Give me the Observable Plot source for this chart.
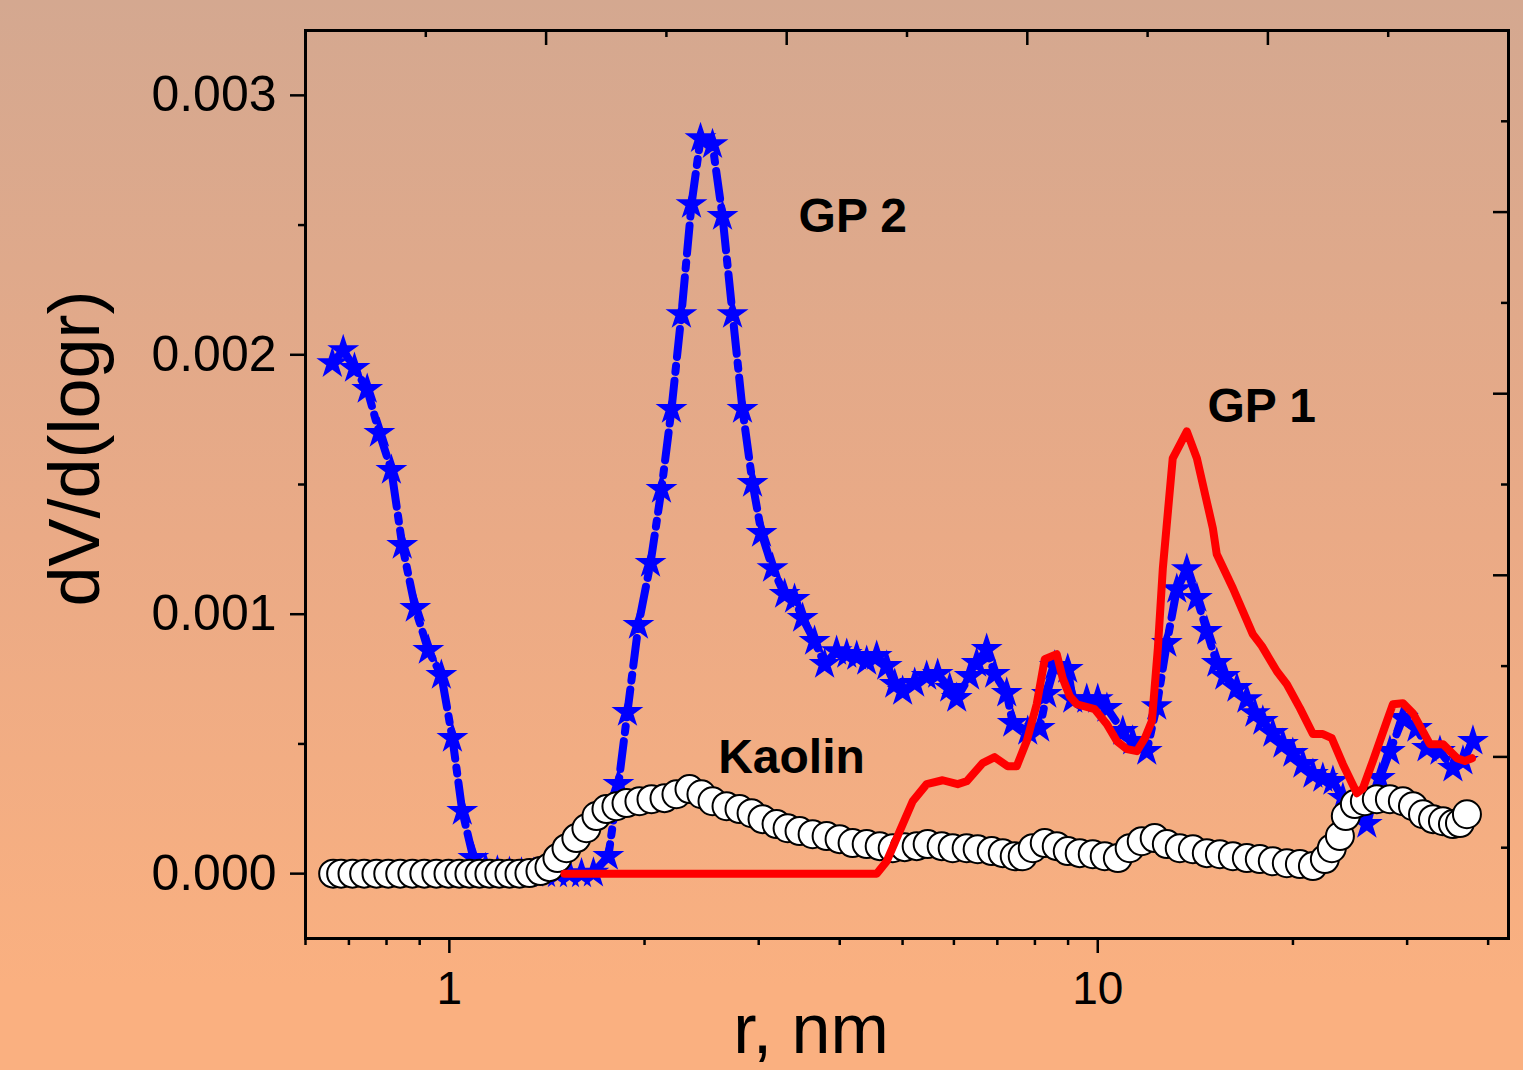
<!DOCTYPE html>
<html>
<head>
<meta charset="utf-8">
<script src="https://cdn.jsdelivr.net/npm/d3@7"></script>
<script src="https://cdn.jsdelivr.net/npm/@observablehq/plot@0.6"></script>
<style>
  html, body { margin: 0; padding: 0; }
  body {
    width: 1523px; height: 1070px; overflow: hidden;
    background: linear-gradient(to bottom, rgb(212,168,144) 0%, rgb(234,170,134) 50%, rgb(250,176,128) 92%, rgb(250,176,128) 100%);
  }
</style>
</head>
<body>
<div id="chart"></div>
<script>
// ---- GP 2 (blue stars, dash-dot line) ----
const gp2R = [0.660,0.686,0.714,0.747,0.780,0.814,0.846,0.886,0.928,0.972,1.011,1.047,1.089,1.137,1.186,1.238,1.292,1.348,1.407,1.468,1.532,1.599,1.668,1.759,1.823,1.882,1.957,2.043,2.124,2.201,2.280,2.363,2.440,2.546,2.638,2.734,2.832,2.935,3.030,3.151,3.289,3.407,3.506,3.658,3.791,3.956,4.101,4.249,4.402,4.561,4.727,4.863,5.001,5.220,5.447,5.664,5.911,6.060,6.346,6.505,6.740,6.935,7.238,7.394,7.798,8.138,8.343,8.583,8.989,9.150,9.617,10.00,10.33,10.93,11.32,11.90,12.33,12.78,13.24,13.72,14.22,14.73,15.26,15.70,16.39,16.98,17.47,17.97,18.62,19.30,19.99,20.72,21.47,22.24,23.05,23.88,24.74,26.00,27.23,28.22,29.55,31.06,32.19,33.71,35.30,36.58,37.90];
const gp2V = [0.001967,0.002017,0.001948,0.001867,0.001698,0.001555,0.001266,0.001023,0.000861,0.000765,0.000522,0.000241,0.000060,0.000020,0.000010,0.000005,0.000003,0.000002,0.000001,0.000000,0.000000,0.000000,0.000003,0.000067,0.000345,0.000622,0.000958,0.001197,0.001482,0.001790,0.002156,0.002580,0.002834,0.002811,0.002534,0.002156,0.001790,0.001505,0.001312,0.001177,0.001077,0.001058,0.000985,0.000896,0.000807,0.000857,0.000846,0.000838,0.000819,0.000838,0.000800,0.000730,0.000703,0.000734,0.000761,0.000769,0.000715,0.000676,0.000761,0.000811,0.000865,0.000769,0.000696,0.000580,0.000549,0.000561,0.000692,0.000800,0.000788,0.000672,0.000672,0.000672,0.000638,0.000549,0.000511,0.000472,0.000645,0.000888,0.001096,0.001173,0.001062,0.000935,0.000811,0.000761,0.000715,0.000672,0.000618,0.000588,0.000541,0.000499,0.000464,0.000422,0.000383,0.000368,0.000356,0.000291,0.000241,0.000191,0.000368,0.000472,0.000599,0.000561,0.000484,0.000472,0.000407,0.000434,0.000511];

// ---- Kaolin (white circles) ----
const kaolinR = [0.662,0.681,0.709,0.739,0.772,0.805,0.840,0.877,0.915,0.955,0.997,1.036,1.074,1.113,1.153,1.194,1.238,1.283,1.329,1.382,1.427,1.468,1.516,1.570,1.627,1.686,1.747,1.810,1.876,1.964,2.050,2.147,2.240,2.346,2.448,2.546,2.676,2.802,2.925,3.041,3.196,3.324,3.468,3.633,3.818,3.998,4.187,4.402,4.610,4.828,5.037,5.257,5.466,5.745,5.974,6.278,6.528,6.862,7.136,7.446,7.661,7.938,8.284,8.645,8.989,9.380,9.824,10.25,10.74,11.20,11.69,12.24,12.78,13.38,14.02,14.73,15.43,16.16,16.98,17.78,18.62,19.57,20.50,21.47,22.40,22.96,23.63,24.13,24.92,25.82,26.94,28.22,29.55,30.63,31.74,32.89,34.07,35.30,36.19,37.10];
const kaolinV = [0,0,0,0,0,0,0,0,0,0,0,0,0,0,0,0,0,0,0.000002,0.000010,0.000025,0.000060,0.000098,0.000137,0.000175,0.000222,0.000249,0.000260,0.000272,0.000279,0.000287,0.000291,0.000306,0.000326,0.000306,0.000279,0.000260,0.000249,0.000233,0.000210,0.000191,0.000175,0.000164,0.000152,0.000145,0.000133,0.000118,0.000114,0.000106,0.000098,0.000102,0.000106,0.000114,0.000106,0.000098,0.000098,0.000094,0.000087,0.000079,0.000067,0.000067,0.000098,0.000118,0.000106,0.000087,0.000079,0.000075,0.000067,0.000060,0.000098,0.000125,0.000137,0.000114,0.000098,0.000094,0.000079,0.000075,0.000067,0.000060,0.000056,0.000048,0.000040,0.000037,0.000029,0.000056,0.000098,0.000145,0.000222,0.000268,0.000279,0.000287,0.000287,0.000279,0.000260,0.000229,0.000210,0.000202,0.000191,0.000195,0.000229];

// ---- GP 1 (red line) ----
const gp1R = [1.505,4.561,4.727,4.950,5.183,5.447,5.765,6.081,6.278,6.645,6.935,7.263,7.499,7.771,8.051,8.284,8.645,8.831,9.053,9.281,9.894,10.33,10.70,11.09,11.49,11.82,12.12,12.38,12.60,13.05,13.72,14.22,15.05,15.26,16.16,17.34,17.91,18.89,19.57,20.50,21.47,22.24,22.96,23.88,25.10,25.64,26.56,27.92,28.52,29.55,30.63,32.53,34.07,35.81,36.84,37.77];
const gp1V = [0,0,0.000048,0.000164,0.000279,0.000345,0.000360,0.000345,0.000356,0.000426,0.000449,0.000414,0.000414,0.000511,0.000653,0.000827,0.000846,0.000753,0.000684,0.000653,0.000634,0.000576,0.000511,0.000480,0.000472,0.000522,0.000588,0.000869,0.001177,0.001601,0.001705,0.001601,0.001331,0.001231,0.001100,0.000923,0.000877,0.000780,0.000730,0.000638,0.000538,0.000538,0.000522,0.000422,0.000310,0.000329,0.000434,0.000588,0.000653,0.000657,0.000618,0.000499,0.000499,0.000445,0.000434,0.000445];

// ---- axes ----
const xDomain = [0.6, 43];
const yDomain = [-0.00025, 0.00325];
const xMajorTicks = [1, 10];
const xMinorTicks = [0.6, 0.7, 0.8, 0.9, 2, 3, 4, 5, 6, 7, 8, 9, 20, 30, 40];
const yMajorTicks = [0, 0.001, 0.002, 0.003];
const yMinorTicks = [0.0005, 0.0015, 0.0025];

// ---- annotations ----
const labelText = ["GP 2", "GP 1", "Kaolin"];
const labelR = [4.19, 17.9, 3.37];
const labelV = [0.002534, 0.001802, 0.000449];

const gp2 = gp2R.map((r, i) => ({r, v: gp2V[i]}));
const kaolin = kaolinR.map((r, i) => ({r, v: kaolinV[i]}));
const gp1 = gp1R.map((r, i) => ({r, v: gp1V[i]}));
const labels = labelText.map((t, i) => ({t, r: labelR[i], v: labelV[i]}));

// mirrored (unlabelled) ticks on top/right: 10 equal divisions of the frame
const lo = Math.log10(xDomain[0]), hi = Math.log10(xDomain[1]);
const topTicks = d3.range(1, 10).map(k => ({x: Math.pow(10, lo + k * (hi - lo) / 10), major: k % 2 === 0}));
const rightTicks = d3.range(1, 10).map(k => ({y: yDomain[0] + k * (yDomain[1] - yDomain[0]) / 10, major: k % 2 === 0}));

const W = 1523, H = 1070, ML = 305, MR = 15, MT = 30, MB = 132;
const FW = W - ML - MR, FH = H - MT - MB;
const font = "'Liberation Sans', Arial, Helvetica, sans-serif";

const chart = Plot.plot({
  width: W, height: H,
  marginLeft: ML, marginRight: MR, marginTop: MT, marginBottom: MB,
  x: {type: "log", domain: xDomain, axis: null},
  y: {domain: yDomain, axis: null},
  style: {background: "transparent", fontFamily: font, color: "black", overflow: "visible"},
  marks: [
    Plot.line(gp2, {x: "r", y: "v", stroke: "#0000ff", strokeWidth: 8, strokeDasharray: "28,9,6,9"}),
    Plot.dot(gp2, {x: "r", y: "v", symbol: "star", r: 10, fill: "#0000ff", stroke: "none"}),
    Plot.dot(kaolin, {x: "r", y: "v", r: 14, fill: "white", stroke: "black", strokeWidth: 2}),
    Plot.line(gp1, {x: "r", y: "v", stroke: "#ff0000", strokeWidth: 8, strokeLinejoin: "round", strokeLinecap: "round"}),
    Plot.frame({stroke: "black", strokeWidth: 3}),
    // bottom axis
    Plot.axisX(xMajorTicks, {anchor: "bottom", tickSize: 15, tickPadding: 18, tickFormat: d => String(d), fontSize: 46, strokeWidth: 2.5, label: null}),
    Plot.axisX(xMinorTicks, {anchor: "bottom", tickSize: 7, tickFormat: () => "", strokeWidth: 2.5, label: null}),
    // left axis
    Plot.axisY(yMajorTicks, {anchor: "left", tickSize: 15, tickPadding: 14, tickFormat: d3.format(".3f"), fontSize: 50, strokeWidth: 2.5, label: null}),
    Plot.axisY(yMinorTicks, {anchor: "left", tickSize: 7, tickFormat: () => "", strokeWidth: 2.5, label: null}),
    // top inward ticks
    Plot.tickX(topTicks.filter(d => d.major), {x: "x", stroke: "black", strokeWidth: 2.5, insetBottom: FH - 15}),
    Plot.tickX(topTicks.filter(d => !d.major), {x: "x", stroke: "black", strokeWidth: 2.5, insetBottom: FH - 7}),
    // right inward ticks
    Plot.tickY(rightTicks.filter(d => d.major), {y: "y", stroke: "black", strokeWidth: 2.5, insetLeft: FW - 15}),
    Plot.tickY(rightTicks.filter(d => !d.major), {y: "y", stroke: "black", strokeWidth: 2.5, insetLeft: FW - 7}),
    // axis titles
    Plot.text(["r, nm"], {text: d => d, frameAnchor: "bottom", textAnchor: "middle", dx: -96, dy: 114, lineAnchor: "bottom", fontSize: 70, fill: "black"}),
    Plot.text(["dV/d(logr)"], {text: d => d, frameAnchor: "left", textAnchor: "middle", dx: -230, dy: -36, rotate: -90, lineAnchor: "middle", fontSize: 72, fill: "black"}),
    // series labels
    Plot.text(labels, {x: "r", y: "v", text: "t", fontSize: 48, fontWeight: "bold", fill: "black", lineAnchor: "middle"})
  ]
});
document.getElementById("chart").appendChild(chart);
</script>
</body>
</html>
